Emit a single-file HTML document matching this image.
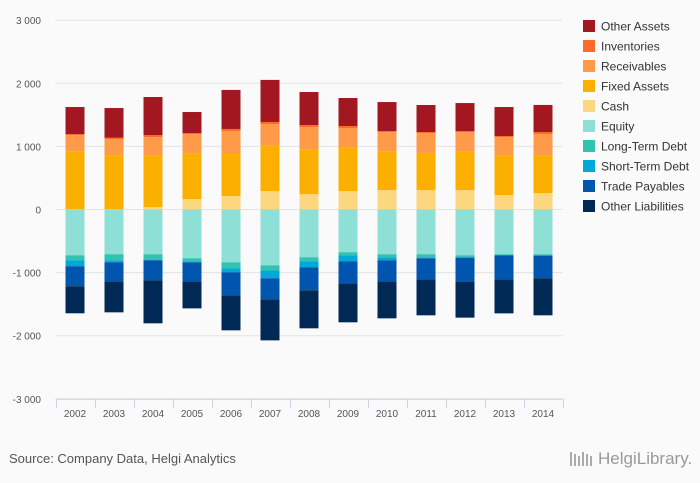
<!DOCTYPE html>
<html><head><meta charset="utf-8">
<style>
body{margin:0;background:#fafafa;font-family:"Liberation Sans",sans-serif;}
#wrap{position:relative;width:700px;height:483px;background:#fafafa;overflow:hidden;}
svg text{font-family:"Liberation Sans",sans-serif;}
</style></head>
<body>
<div id="wrap">
<svg id="chart" width="700" height="483"></svg>
</div>
<script>
const categories=["2002","2003","2004","2005","2006","2007","2008","2009","2010","2011","2012","2013","2014"];
const seriesNames=["Other Assets","Inventories","Receivables","Fixed Assets","Cash","Equity","Long-Term Debt","Short-Term Debt","Trade Payables","Other Liabilities"];
const seriesColors=["#a31820","#ff6a2a","#ff9a48","#fbb000","#fdd680","#8edfd6","#31c3b0","#00a8d8","#0055ae","#002a55"];
const cash=[5,5,37,164,212,291,243,291,307,307,307,228,259];
const fixedAssets=[920,857,825,730,667,725,714,688,608,587,608,624,593];
const receivables=[254,254,286,302,365,339,349,312,312,317,312,296,344];
const inventories=[16,21,32,16,32,32,32,32,16,16,16,16,32];
const otherAssets=[429,471,603,333,619,667,524,444,460,429,444,460,429];
const equity=[725,709,709,772,836,884,757,677,709,709,725,709,709];
const longTermDebt=[79,95,95,48,95,79,63,48,48,48,32,16,16];
const shortTermDebt=[95,32,0,16,63,127,95,95,48,16,5,0,5];
const tradePayables=[317,302,317,302,365,333,365,349,333,333,381,381,360];
const otherLiabilities=[429,492,683,429,556,651,603,619,587,571,571,540,587];
const yTicks=[3000,2000,1000,0,-1000,-2000,-3000];
const yTickLabels=["3 000","2 000","1 000","0","-1 000","-2 000","-3 000"];

const NS="http://www.w3.org/2000/svg";
const svg=document.getElementById('chart');
const X0=55.5,X1=562.5,Y0=209.5,PER=63.1;
const band=(X1-X0)/categories.length;
function y(v){return Y0-v*PER/1000;}
function xc(i){return X0+band*(i+0.5);}
function mk(t,a){const e=document.createElementNS(NS,t);for(const k in a)e.setAttribute(k,a[k]);svg.appendChild(e);return e;}

yTicks.forEach((t,i)=>{
  const g=mk('line',{x1:X0,x2:X1,y1:y(t),y2:y(t),stroke:'#e3e3e3','stroke-width':1});
  
  
  const l=mk('text',{x:41,y:y(t)+4,'text-anchor':'end','font-size':10,fill:'#555'});
  l.textContent=yTickLabels[i];
  
  
});
const ax=mk('line',{x1:X0,x2:X1,y1:y(-3000)+0.5,y2:y(-3000)+0.5,stroke:'#c8d4e6'});


for(let i=0;i<=categories.length;i++){
  const tx=Math.round(X0+band*i)+0.5;
  const tk=mk('line',{x1:tx,x2:tx,y1:y(-3000),y2:y(-3000)+9,stroke:'#c8d4e6'});
  
  
}
categories.forEach((c,i)=>{
  const t=mk('text',{x:xc(i),y:417,'text-anchor':'middle','font-size':10,fill:'#555'});
  t.textContent=c;
  
  
});

const pos=[cash,fixedAssets,receivables,inventories,otherAssets];
const posIdx=[4,3,2,1,0];
const neg=[equity,longTermDebt,shortTermDebt,tradePayables,otherLiabilities];
const negIdx=[5,6,7,8,9];
const BW=19;
categories.forEach((c,i)=>{
  let acc=0;
  pos.forEach((s,k)=>{
    const v=s[i];const r=mk('rect',{x:xc(i)-BW/2,y:y(acc+v),width:BW,height:Math.max(0,y(acc)-y(acc+v)),fill:seriesColors[posIdx[k]]});
    
    
    acc+=v;
  });
  acc=0;
  neg.forEach((s,k)=>{
    const v=s[i];const r=mk('rect',{x:xc(i)-BW/2,y:y(acc),width:BW,height:Math.max(0,y(acc-v)-y(acc)),fill:seriesColors[negIdx[k]]});
    
    
    acc-=v;
  });
});

seriesNames.forEach((n,i)=>{
  const yy=20+i*20;
  const r=mk('rect',{x:583,y:yy,width:12,height:12,fill:seriesColors[i]});
  
  
  const t=mk('text',{x:601,y:yy+10.5,'font-size':12,fill:'#333'});
  t.textContent=n;
  
  
});

const s=mk('text',{x:9,y:463,'font-size':13,fill:'#555'});
s.textContent="Source: Company Data, Helgi Analytics";


const lg=mk('text',{x:598,y:464,'font-size':17,fill:'#999','font-family':'Liberation Serif'});
lg.textContent="HelgiLibrary.";


for(let k=0;k<6;k++){
  const b=mk('rect',{x:570+k*4,y:452+(k%3)*2,width:2,height:14-(k%3)*2,fill:'#aaa'});
  
  
}
</script>
</body></html>
